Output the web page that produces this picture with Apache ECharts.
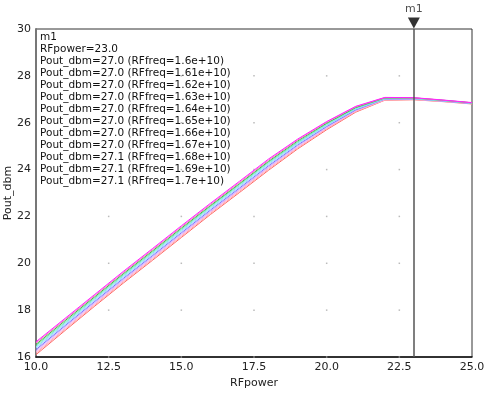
<!DOCTYPE html>
<html><head><meta charset="utf-8">
<script src="https://cdn.jsdelivr.net/npm/echarts@6/dist/echarts.min.js"></script>
<style>html,body{margin:0;padding:0;background:#fff}#c{width:489px;height:393px}</style>
</head><body><div id="c"></div>
<script>
var rfPower = [10,11,12,13,14,15,16,17,18,19,20,21,22,23,24,25];
var freqLabels = ['1.6e+10','1.61e+10','1.62e+10','1.63e+10','1.64e+10','1.65e+10','1.66e+10','1.67e+10','1.68e+10','1.69e+10','1.7e+10'];
var pout_160 = [16.10,17.13,18.15,19.15,20.12,21.10,22.08,23.02,23.97,24.88,25.70,26.45,26.96,26.98,26.90,26.80];
var pout_161 = [16.16,17.18,18.20,19.20,20.17,21.15,22.13,23.07,24.02,24.92,25.74,26.48,26.97,26.99,26.91,26.81];
var pout_162 = [16.21,17.23,18.25,19.25,20.22,21.20,22.18,23.12,24.07,24.96,25.77,26.50,26.98,27.00,26.91,26.81];
var pout_163 = [16.27,17.29,18.30,19.30,20.27,21.25,22.22,23.16,24.11,25.01,25.81,26.53,27.00,27.01,26.92,26.82];
var pout_164 = [16.32,17.34,18.35,19.35,20.32,21.30,22.27,23.21,24.16,25.05,25.84,26.55,27.01,27.02,26.93,26.82];
var pout_165 = [16.38,17.39,18.40,19.40,20.37,21.35,22.32,23.26,24.21,25.09,25.88,26.58,27.02,27.03,26.94,26.83];
var pout_166 = [16.43,17.44,18.45,19.45,20.42,21.40,22.37,23.31,24.26,25.13,25.91,26.60,27.03,27.03,26.94,26.84];
var pout_167 = [16.49,17.49,18.50,19.50,20.47,21.45,22.42,23.36,24.31,25.17,25.95,26.63,27.04,27.04,26.95,26.84];
var pout_168 = [16.54,17.55,18.55,19.55,20.52,21.50,22.46,23.40,24.35,25.22,25.98,26.65,27.06,27.06,26.96,26.85];
var pout_169 = [16.60,17.60,18.60,19.60,20.57,21.55,22.51,23.45,24.40,25.26,26.02,26.68,27.07,27.06,26.96,26.85];
var pout_170 = [16.65,17.65,18.65,19.65,20.62,21.60,22.56,23.50,24.45,25.30,26.05,26.70,27.08,27.07,26.97,26.86];
var allPout = [pout_160,pout_161,pout_162,pout_163,pout_164,pout_165,pout_166,pout_167,pout_168,pout_169,pout_170];
var markerX = 23.0;
var markerName = 'm1';
var xTicks = [12.5,15,17.5,20,22.5];
var yTicks = [16,18,20,22,24,26,28];

var colors = ['#ff6666','#ffaaaa','#ffaadd','#ccaaff','#7777ff','#aaccff','#77eeee','#77ddaa','#44bb44','#ff66cc','#ff22ff'];
var FONT = 'DejaVu Sans';

var series = allPout.map(function(arr, i){
  return {
    type:'line', name:freqLabels[i], showSymbol:false, symbol:'none',
    data: rfPower.map(function(x,j){return [x, arr[j]];}),
    lineStyle:{width:1, color:colors[i]}, itemStyle:{color:colors[i]}, z:2, silent:true
  };
});

var gridDots = [];
xTicks.forEach(function(x){ yTicks.forEach(function(y){ gridDots.push([x,y]); }); });
series.push({type:'scatter', data:gridDots, symbol:'rect', symbolSize:1.5, itemStyle:{color:'#aaa'}, z:1, silent:true});

series.push({
  type:'scatter', data:[[markerX, 30]], symbol:'triangle', symbolRotate:180, symbolSize:[12,11], symbolOffset:[0,-6],
  itemStyle:{color:'#000'}, clip:false, z:10, silent:true,
  label:{show:true, position:'top', distance:3, formatter:markerName, fontFamily:FONT, fontSize:11, color:'#222'},
  markLine:{silent:true, symbol:['none','none'], label:{show:false}, lineStyle:{color:'#555', width:1.5, type:'solid'},
    data:[{xAxis:markerX}]}
});

var idx = rfPower.indexOf(markerX);
var lines = [markerName, 'RFpower=' + markerX.toFixed(1)];
allPout.forEach(function(arr,i){ lines.push('Pout_dbm=' + arr[idx].toFixed(1) + ' (RFfreq=' + freqLabels[i] + ')'); });

var chart = echarts.init(document.getElementById('c'), null, {renderer:'canvas'});
chart.setOption({
  animation:false,
  grid:{left:36, right:17, top:29, bottom:36, containLabel:false, outerBoundsMode:'none', show:true, borderColor:'#333', borderWidth:1, backgroundColor:'transparent'},
  xAxis:{type:'value', min:10, max:25, interval:2.5, name:'RFpower', nameLocation:'middle', nameGap:21, nameMoveOverlap:false,
    nameTextStyle:{fontFamily:FONT, fontSize:11, color:'#222'},
    axisLine:{show:true, lineStyle:{color:'#111', width:1.5}}, axisTick:{show:false}, splitLine:{show:false},
    axisLabel:{fontFamily:FONT, fontSize:11, color:'#222', margin:5, formatter:function(v){return v.toFixed(1);}}},
  yAxis:{type:'value', min:16, max:30, interval:2, name:'Pout_dbm', nameLocation:'middle', nameGap:22, nameMoveOverlap:false,
    nameTextStyle:{fontFamily:FONT, fontSize:11, color:'#222'},
    axisLine:{show:true, lineStyle:{color:'#777', width:2}}, axisTick:{show:false}, splitLine:{show:false},
    axisLabel:{fontFamily:FONT, fontSize:11, color:'#222', margin:5}},
  graphic:[{type:'text', left:40, top:31, z:20, silent:true,
    style:{text:lines.join('\n'), fontFamily:FONT, fontSize:10.5, lineHeight:12, fill:'#111'}}],
  series:series
});
</script></body></html>
